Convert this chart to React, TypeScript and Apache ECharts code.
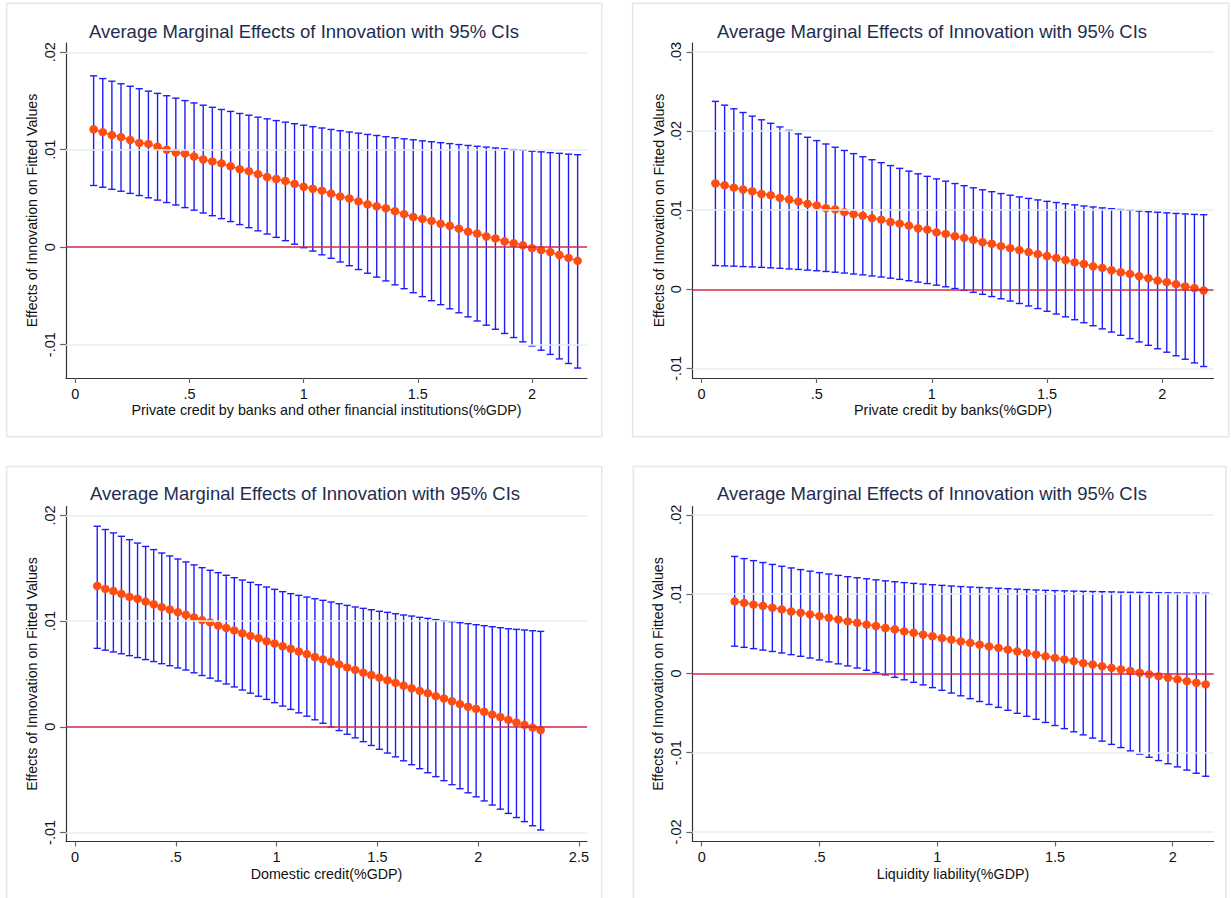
import React, { useEffect, useRef } from "react";
import * as echarts from "echarts";

// ---------------- DATA ----------------
const chartTitle = "Average Marginal Effects of Innovation with 95% CIs";
const yTitle = "Effects of Innovation on Fitted Values";
const xTitles = [
  "Private credit by banks and other financial institutions(%GDP)",
  "Private credit by banks(%GDP)",
  "Domestic credit(%GDP)",
  "Liquidity liability(%GDP)",
];

// Panel 1
const p1X = [0.08,0.12,0.16,0.20,0.24,0.28,0.32,0.36,0.40,0.44,0.48,0.52,0.56,0.60,0.64,0.68,0.72,0.76,0.80,0.84,0.88,0.92,0.96,1.00,1.04,1.08,1.12,1.16,1.20,1.24,1.28,1.32,1.36,1.40,1.44,1.48,1.52,1.56,1.60,1.64,1.68,1.72,1.76,1.80,1.84,1.88,1.92,1.96,2.00,2.04,2.08,2.12,2.16,2.20];
const p1Est = [0.0121,0.0118,0.0115,0.0113,0.0110,0.0107,0.0106,0.0103,0.0100,0.0097,0.0096,0.0093,0.0090,0.0088,0.0086,0.0083,0.0080,0.0078,0.0075,0.0072,0.0070,0.0068,0.0065,0.0062,0.0060,0.0058,0.0055,0.0052,0.0050,0.0047,0.0044,0.0042,0.0040,0.0037,0.0034,0.0031,0.0029,0.0027,0.0024,0.0022,0.0019,0.0016,0.0014,0.0011,0.0009,0.0006,0.0004,0.0002,-0.0001,-0.0003,-0.0005,-0.0008,-0.0011,-0.0014];
const p1Hi = [0.01758,0.01730,0.01703,0.01677,0.01651,0.01626,0.01601,0.01578,0.01554,0.01529,0.01504,0.01480,0.01457,0.01435,0.01413,0.01393,0.01372,0.01354,0.01334,0.01317,0.01299,0.01283,0.01267,0.01252,0.01236,0.01223,0.01208,0.01195,0.01182,0.01170,0.01157,0.01146,0.01134,0.01123,0.01112,0.01102,0.01091,0.01082,0.01072,0.01063,0.01053,0.01044,0.01035,0.01027,0.01018,0.01010,0.01001,0.00994,0.00985,0.00978,0.00970,0.00963,0.00955,0.00949];
const p1Lo = [0.00633,0.00615,0.00594,0.00574,0.00552,0.00530,0.00507,0.00483,0.00458,0.00433,0.00406,0.00380,0.00351,0.00323,0.00293,0.00263,0.00232,0.00200,0.00168,0.00135,0.00101,0.00067,0.00031,-0.00005,-0.00040,-0.00078,-0.00114,-0.00152,-0.00190,-0.00229,-0.00267,-0.00307,-0.00346,-0.00386,-0.00426,-0.00467,-0.00507,-0.00549,-0.00590,-0.00632,-0.00673,-0.00715,-0.00757,-0.00800,-0.00842,-0.00885,-0.00927,-0.00971,-0.01013,-0.01057,-0.01100,-0.01146,-0.01193,-0.01240];
const p1XTicks = [0, 0.5, 1, 1.5, 2];
const p1YTicks = [-0.01, 0, 0.01, 0.02];

// Panel 2
const p2X = [0.06,0.10,0.14,0.18,0.22,0.26,0.30,0.34,0.38,0.42,0.46,0.50,0.54,0.58,0.62,0.66,0.70,0.74,0.78,0.82,0.86,0.90,0.94,0.98,1.02,1.06,1.10,1.14,1.18,1.22,1.26,1.30,1.34,1.38,1.42,1.46,1.50,1.54,1.58,1.62,1.66,1.70,1.74,1.78,1.82,1.86,1.90,1.94,1.98,2.02,2.06,2.10,2.14,2.18];
const p2Est = [0.01338,0.01315,0.01285,0.01262,0.01240,0.01205,0.01190,0.01155,0.01135,0.01110,0.01080,0.01060,0.01025,0.01010,0.00975,0.00950,0.00930,0.00900,0.00880,0.00850,0.00830,0.00805,0.00770,0.00755,0.00720,0.00700,0.00670,0.00650,0.00625,0.00595,0.00575,0.00545,0.00520,0.00495,0.00470,0.00445,0.00420,0.00395,0.00370,0.00340,0.00320,0.00290,0.00270,0.00240,0.00215,0.00195,0.00165,0.00140,0.00110,0.00090,0.00065,0.00035,0.00015,-0.00015];
const p2Hi = [0.02376,0.02328,0.02282,0.02235,0.02189,0.02143,0.02099,0.02053,0.02009,0.01965,0.01922,0.01880,0.01837,0.01796,0.01755,0.01715,0.01676,0.01638,0.01601,0.01564,0.01529,0.01494,0.01460,0.01428,0.01396,0.01367,0.01337,0.01310,0.01283,0.01258,0.01234,0.01210,0.01189,0.01168,0.01149,0.01130,0.01112,0.01097,0.01081,0.01067,0.01053,0.01041,0.01029,0.01019,0.01008,0.00998,0.00990,0.00981,0.00974,0.00966,0.00959,0.00953,0.00947,0.00943];
const p2Lo = [0.00300,0.00296,0.00292,0.00287,0.00283,0.00277,0.00271,0.00265,0.00257,0.00251,0.00242,0.00234,0.00225,0.00216,0.00205,0.00193,0.00182,0.00168,0.00155,0.00140,0.00125,0.00108,0.00090,0.00072,0.00052,0.00031,0.00009,-0.00014,-0.00039,-0.00064,-0.00092,-0.00120,-0.00149,-0.00180,-0.00211,-0.00244,-0.00278,-0.00313,-0.00349,-0.00385,-0.00423,-0.00461,-0.00501,-0.00541,-0.00582,-0.00624,-0.00666,-0.00709,-0.00752,-0.00796,-0.00841,-0.00885,-0.00931,-0.00977];
const p2XTicks = [0, 0.5, 1, 1.5, 2];
const p2YTicks = [-0.01, 0, 0.01, 0.02, 0.03];

// Panel 3
const p3X = [0.11,0.15,0.19,0.23,0.27,0.31,0.35,0.39,0.43,0.47,0.51,0.55,0.59,0.63,0.67,0.71,0.75,0.79,0.83,0.87,0.91,0.95,0.99,1.03,1.07,1.11,1.15,1.19,1.23,1.27,1.31,1.35,1.39,1.43,1.47,1.51,1.55,1.59,1.63,1.67,1.71,1.75,1.79,1.83,1.87,1.91,1.95,1.99,2.03,2.07,2.11,2.15,2.19,2.23,2.27,2.31];
const p3Est = [0.01333,0.01305,0.01285,0.01258,0.01230,0.01212,0.01185,0.01160,0.01132,0.01110,0.01085,0.01060,0.01035,0.01010,0.00988,0.00958,0.00935,0.00912,0.00885,0.00860,0.00838,0.00810,0.00788,0.00762,0.00738,0.00712,0.00688,0.00660,0.00638,0.00615,0.00590,0.00562,0.00538,0.00512,0.00490,0.00465,0.00440,0.00415,0.00390,0.00365,0.00340,0.00318,0.00290,0.00268,0.00242,0.00215,0.00190,0.00170,0.00142,0.00115,0.00092,0.00065,0.00040,0.00018,-0.00008,-0.00032];
const p3Hi = [0.01898,0.01867,0.01835,0.01803,0.01771,0.01739,0.01707,0.01677,0.01645,0.01617,0.01588,0.01560,0.01532,0.01506,0.01481,0.01459,0.01434,0.01411,0.01389,0.01367,0.01345,0.01323,0.01301,0.01279,0.01260,0.01244,0.01228,0.01212,0.01197,0.01181,0.01165,0.01149,0.01134,0.01121,0.01108,0.01093,0.01083,0.01070,0.01058,0.01048,0.01036,0.01026,0.01014,0.01004,0.00995,0.00985,0.00976,0.00966,0.00957,0.00947,0.00938,0.00928,0.00922,0.00916,0.00909,0.00903];
const p3Lo = [0.00742,0.00725,0.00708,0.00691,0.00673,0.00655,0.00636,0.00617,0.00597,0.00578,0.00557,0.00537,0.00511,0.00485,0.00460,0.00433,0.00405,0.00377,0.00348,0.00318,0.00289,0.00259,0.00228,0.00196,0.00164,0.00132,0.00100,0.00066,0.00033,-0.00002,-0.00036,-0.00071,-0.00105,-0.00141,-0.00177,-0.00213,-0.00249,-0.00285,-0.00322,-0.00359,-0.00397,-0.00435,-0.00472,-0.00510,-0.00548,-0.00586,-0.00625,-0.00663,-0.00702,-0.00741,-0.00780,-0.00820,-0.00859,-0.00898,-0.00937,-0.00977];
const p3XTicks = [0, 0.5, 1, 1.5, 2, 2.5];
const p3YTicks = [-0.01, 0, 0.01, 0.02];

// Panel 4
const p4X = [0.14,0.18,0.22,0.26,0.30,0.34,0.38,0.42,0.46,0.50,0.54,0.58,0.62,0.66,0.70,0.74,0.78,0.82,0.86,0.90,0.94,0.98,1.02,1.06,1.10,1.14,1.18,1.22,1.26,1.30,1.34,1.38,1.42,1.46,1.50,1.54,1.58,1.62,1.66,1.70,1.74,1.78,1.82,1.86,1.90,1.94,1.98,2.02,2.06,2.10,2.14];
const p4Est = [0.00909,0.00890,0.00868,0.00852,0.00828,0.00808,0.00780,0.00765,0.00745,0.00722,0.00702,0.00680,0.00655,0.00638,0.00615,0.00598,0.00572,0.00555,0.00530,0.00512,0.00488,0.00468,0.00445,0.00425,0.00402,0.00385,0.00362,0.00340,0.00322,0.00300,0.00278,0.00258,0.00238,0.00215,0.00195,0.00175,0.00155,0.00130,0.00112,0.00090,0.00070,0.00050,0.00030,0.00008,-0.00012,-0.00035,-0.00055,-0.00075,-0.00098,-0.00118,-0.00139];
const p4Hi = [0.01475,0.01448,0.01422,0.01398,0.01374,0.01351,0.01330,0.01309,0.01289,0.01271,0.01253,0.01236,0.01220,0.01207,0.01193,0.01180,0.01167,0.01156,0.01145,0.01135,0.01126,0.01118,0.01110,0.01102,0.01095,0.01089,0.01083,0.01078,0.01073,0.01068,0.01062,0.01057,0.01052,0.01048,0.01044,0.01041,0.01038,0.01035,0.01032,0.01030,0.01028,0.01025,0.01023,0.01021,0.01019,0.01017,0.01016,0.01014,0.01013,0.01012,0.01011];
const p4Lo = [0.00343,0.00328,0.00312,0.00294,0.00276,0.00257,0.00236,0.00215,0.00193,0.00169,0.00145,0.00120,0.00094,0.00067,0.00039,0.00010,-0.00019,-0.00050,-0.00081,-0.00113,-0.00146,-0.00180,-0.00214,-0.00248,-0.00283,-0.00319,-0.00355,-0.00392,-0.00429,-0.00466,-0.00504,-0.00542,-0.00580,-0.00619,-0.00658,-0.00697,-0.00737,-0.00776,-0.00816,-0.00855,-0.00896,-0.00936,-0.00977,-0.01018,-0.01059,-0.01100,-0.01140,-0.01180,-0.01220,-0.01260,-0.01298];
const p4XTicks = [0, 0.5, 1, 1.5, 2];
const p4YTicks = [-0.02, -0.01, 0, 0.01, 0.02];

// ---------------- LAYOUT / STYLE ----------------
const FONT = "'Liberation Sans', Arial, Helvetica, sans-serif";
const BLUE = "#1c1cff";
const ORANGE = "#ff4d12";
const ZERO = "#d0284a";
const GRIDC = "#e6eff1";
const AXISC = "#333333";
const TEXTC = "#111111";
const TITLEC = "#1e2d4f";

const panels = [
  { x: p1X, est: p1Est, lo: p1Lo, hi: p1Hi, xName: xTitles[0], xTicks: p1XTicks, yTicks: p1YTicks,
    xMin: -0.041, xMax: 2.241, yMin: -0.01342, yMax: 0.02095,
    grid: { left: 66, top: 43, width: 521, height: 335 },
    box: { x: 6.7, y: 3.3, w: 595, h: 433.4 }, titleX: 304, titleY: 31 },
  { x: p2X, est: p2Est, lo: p2Lo, hi: p2Hi, xName: xTitles[1], xTicks: p2XTicks, yTicks: p2YTicks,
    xMin: -0.0395, xMax: 2.2228, yMin: -0.01122, yMax: 0.03114,
    grid: { left: 692.5, top: 43, width: 521, height: 335 },
    box: { x: 632.7, y: 3.3, w: 596, h: 433.4 }, titleX: 932, titleY: 31 },
  { x: p3X, est: p3Est, lo: p3Lo, hi: p3Hi, xName: xTitles[2], xTicks: p3XTicks, yTicks: p3YTicks,
    xMin: -0.045, xMax: 2.54, yMin: -0.01086, yMax: 0.02085,
    grid: { left: 66, top: 506.5, width: 521, height: 335 },
    box: { x: 6.7, y: 466.5, w: 595, h: 440 }, titleX: 305, titleY: 493.5 },
  { x: p4X, est: p4Est, lo: p4Lo, hi: p4Hi, xName: xTitles[3], xTicks: p4XTicks, yTicks: p4YTicks,
    xMin: -0.0399, xMax: 2.174, yMin: -0.02121, yMax: 0.02105,
    grid: { left: 692.3, top: 506.5, width: 521.4, height: 335 },
    box: { x: 633.3, y: 466.5, w: 592.7, h: 440 }, titleX: 932, titleY: 493.5 },
];

const fmt = (v: number) => {
  const s = String(+Number(v).toFixed(4));
  return s.replace(/^(-?)0\./, "$1.");
};

function buildOption() {
  const grid: any[] = [];
  const xAxis: any[] = [];
  const yAxis: any[] = [];
  const series: any[] = [];
  const graphic: any[] = [];

  panels.forEach((p, k) => {
    grid.push({ ...p.grid, containLabel: false });
    xAxis.push({
      gridIndex: k, type: "value", min: p.xMin, max: p.xMax,
      axisLine: { show: true, onZero: false, lineStyle: { color: AXISC, width: 1.2 } },
      axisTick: { show: true, customValues: p.xTicks, length: 5, lineStyle: { color: "#666", width: 1.2 } },
      axisLabel: { customValues: p.xTicks, formatter: fmt, fontSize: 14.5, color: TEXTC, margin: 8, fontFamily: FONT },
      splitLine: { show: false },
      name: p.xName, nameLocation: "middle", nameGap: 25,
      nameTextStyle: { fontSize: 14.3, color: TEXTC, fontFamily: FONT },
    });
    yAxis.push({
      gridIndex: k, type: "value", min: p.yMin, max: p.yMax,
      axisLine: { show: true, onZero: false, lineStyle: { color: AXISC, width: 1.2 } },
      axisTick: { show: true, customValues: p.yTicks, length: 6, lineStyle: { color: "#666", width: 1.2 } },
      axisLabel: { customValues: p.yTicks, formatter: fmt, rotate: 90, fontSize: 14.5, color: TEXTC, margin: 9, fontFamily: FONT },
      splitLine: { show: false },
      name: yTitle, nameLocation: "middle", nameGap: 27, nameRotate: 90,
      nameTextStyle: { fontSize: 14.2, color: TEXTC, fontFamily: FONT },
    });

    const lineData = p.yTicks.filter((t) => t !== 0).map((t) => ({ yAxis: t, lineStyle: { color: GRIDC, width: 1.5, type: "solid" } }));
    lineData.push({ yAxis: 0, lineStyle: { color: ZERO, width: 1.6, type: "solid" } });

    const pts = p.x.map((xv, i) => [xv, p.est[i]]);
    const ci = p.x.map((xv, i) => [xv, p.lo[i], p.hi[i]]);

    series.push({
      type: "line", xAxisIndex: k, yAxisIndex: k, data: pts, z: 1,
      showSymbol: false, symbol: "none", lineStyle: { width: 0, opacity: 0 }, silent: true,
      markLine: { symbol: ["none", "none"], silent: true, label: { show: false }, data: lineData, animation: false },
    });
    series.push({
      type: "custom", xAxisIndex: k, yAxisIndex: k, data: ci, z: 3,
      encode: { x: 0, y: [1, 2] },
      renderItem: (params: any, api: any) => {
        const xv = api.value(0), lo = api.value(1), hi = api.value(2);
        const a = api.coord([xv, hi]);
        const b = api.coord([xv, lo]);
        const style = { stroke: BLUE, lineWidth: 1.4 };
        const cw = 3.6;
        return {
          type: "group",
          children: [
            { type: "line", shape: { x1: a[0], y1: a[1], x2: b[0], y2: b[1] }, style },
            { type: "line", shape: { x1: a[0] - cw, y1: a[1], x2: a[0] + cw, y2: a[1] }, style },
            { type: "line", shape: { x1: b[0] - cw, y1: b[1], x2: b[0] + cw, y2: b[1] }, style },
          ],
        };
      },
    });
    series.push({
      type: "line", xAxisIndex: k, yAxisIndex: k, data: pts, z: 4,
      symbol: "circle", symbolSize: 8.5, showSymbol: true,
      itemStyle: { color: ORANGE },
      lineStyle: { color: ORANGE, width: 1.5 },
    });

    graphic.push({
      type: "rect", z: -10, silent: true,
      shape: { x: p.box.x, y: p.box.y, width: p.box.w, height: p.box.h },
      style: { fill: "none", stroke: "#e3e8eb", lineWidth: 1.5 },
    });
    graphic.push({
      type: "text", x: p.titleX, y: p.titleY, silent: true,
      style: { text: chartTitle, fontSize: 18.5, fontFamily: FONT, fill: TITLEC, textAlign: "center", textVerticalAlign: "middle" },
    });
  });

  return { animation: false, backgroundColor: "#ffffff", grid, xAxis, yAxis, series, graphic };
}

export default function App() {
  const ref = useRef<HTMLDivElement>(null);
  useEffect(() => {
    document.body.style.margin = "0";
    if (!ref.current) return;
    const chart = echarts.init(ref.current, undefined, { renderer: "svg" });
    chart.setOption(buildOption() as any);
    return () => chart.dispose();
  }, []);
  return <div ref={ref} style={{ width: 1231, height: 898 }} />;
}
